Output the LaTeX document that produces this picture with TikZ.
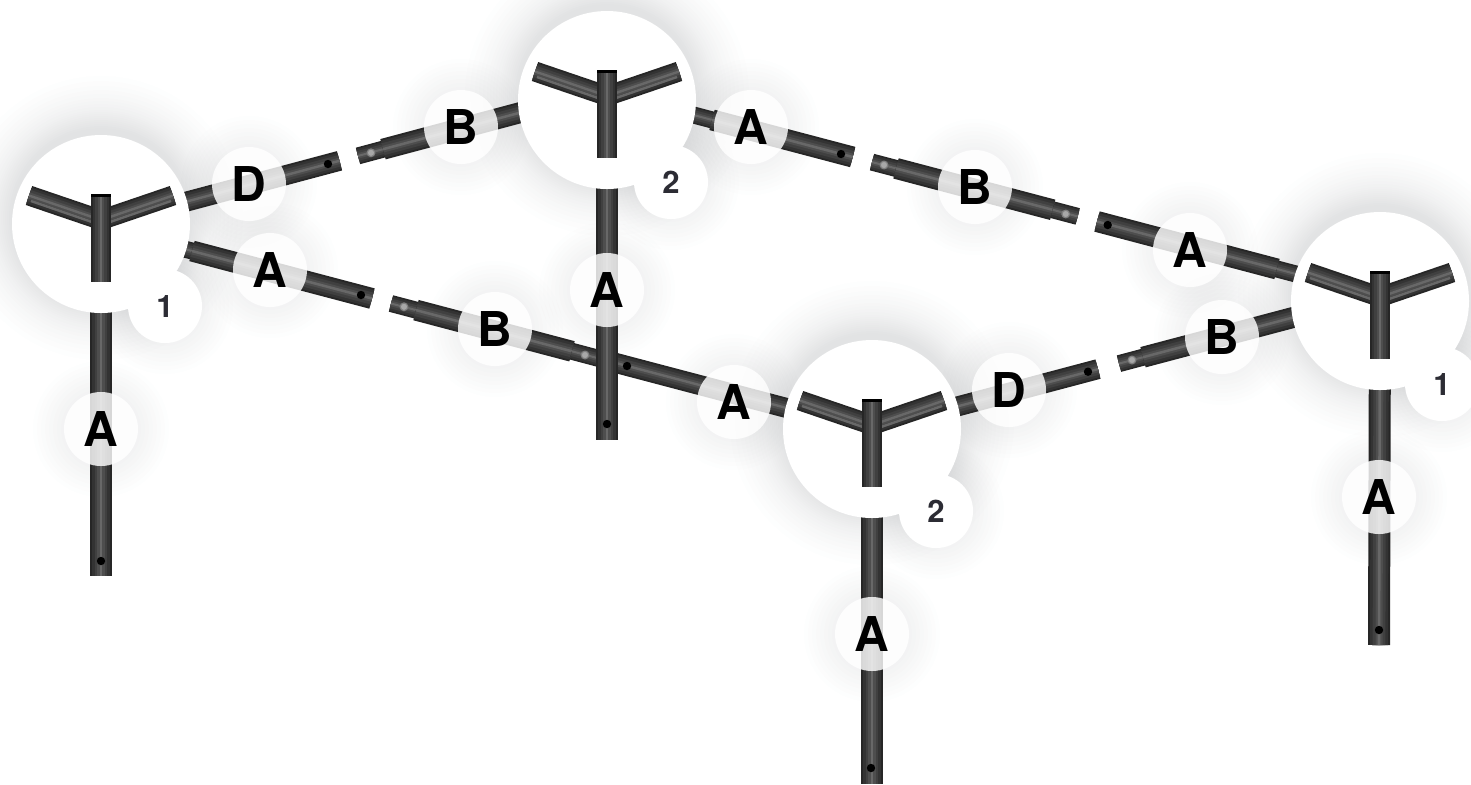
\documentclass[tikz,border=0pt]{standalone}
\usepackage{fontspec}
\setmainfont{TeX Gyre Heros}
\definecolor{pipeedge}{HTML}{262626}
\definecolor{pipemid}{HTML}{333333}
\definecolor{pipesoft}{HTML}{404040}
\definecolor{pipelite}{HTML}{4E4E4E}
\definecolor{pipeglow}{HTML}{686868}
\definecolor{holegray}{HTML}{A8A8A8}
\definecolor{numgray}{HTML}{2C2C34}
\definecolor{shadegray}{HTML}{3C4248}
\tikzset{
  tube/.style={draw=pipeedge, line width=#1,
    postaction={draw=pipemid, line width=.82*#1},
    postaction={draw=pipesoft, line width=.58*#1},
    postaction={draw=pipelite, line width=.32*#1},
    postaction={draw=pipeglow, line width=.12*#1}},
  hubdisc/.style={circle, fill=white, minimum size=89pt, inner sep=0pt},
  tagdisc/.style={circle, fill=white, fill opacity=.82, text opacity=1, minimum size=37pt, inner sep=0pt,
    font=\fontsize{24}{24}\selectfont\bfseries},
  numdisc/.style={circle, fill=white, text=numgray, minimum size=37pt, inner sep=0pt,
    font=\fontsize{15.5}{15.5}\selectfont\bfseries},
  blackhole/.style={circle, fill=black, minimum size=4.2pt, inner sep=0pt},
  greyhole/.style={circle, fill=holegray, draw=gray, line width=.6pt, minimum size=3.8pt, inner sep=0pt},
  ypipe/.pic={
    \draw[tube=10pt] (-72,-28.5) -- (0,-4);
    \draw[pipeglow, line width=1.2pt] (-70,-23) -- (-9,-2);
    \draw[tube=10pt] (72,-28.5) -- (0,-4);
    \draw[pipeglow, line width=1.2pt] (70,-23) -- (9,-2);
    \draw[tube=10pt] (0,-30) -- (0,58);
    \draw[black, line width=10pt] (0,-30) -- (0,-27);
  }
}
\begin{document}
\begin{tikzpicture}[x=0.5pt, y=-0.5pt]
\path[use as bounding box, clip] (0,0) rectangle (1471,784);
% Hub centres
\coordinate (c1) at (101,224);
\coordinate (c2) at (607,100);
\coordinate (c3) at (872,429);
\coordinate (c4) at (1380,301);

% Soft shadows
\foreach \c in {c1,c2,c3,c4}
  \foreach \r in {45,46,47,48,49,50,51,52,53,54,55.5,57,58.5,60,62,64,66,68.5,71}
    \fill[shadegray, opacity=.0095] ([yshift=3pt]\c) circle [radius=\r pt];
\foreach \c in {(101,429),(607,290),(872,634),(1379,497),(270,270),(495,329),(734,402),(249,184),(461,127),(751,127),(975,187),(1190,250),(1009,390),(1222,337),(165,306),(671,182),(936,511),(1442,384)}
  \foreach \r in {20,22,24,26,28,30,32,34}
    \fill[shadegray, opacity=.006] \c circle [radius=\r pt];

% Front left beam
\coordinate (fa1) at (170,245.2);
\coordinate (fa2) at (192,251);
\coordinate (fa3) at (372,298.5);
\coordinate (fb1) at (391,303.5);
\coordinate (fb2) at (416,310.1);
\coordinate (fb3) at (572,351.3);
\coordinate (fb4) at (610,361.4);
\coordinate (fa4) at (800,411.5);
\draw[tube=8.5pt] (fa1) -- (fa2);
\draw[tube=10.5pt] (fa2) -- (fa3);
\draw[tube=8.5pt] (fb1) -- (fb2);
\draw[tube=10.5pt] (fb2) -- (fb3);
\draw[tube=8.5pt] (fb3) -- (fb4);
\draw[tube=10pt] (fb4) -- (fa4);
\node[blackhole] (h1) at (361,295) {};
\node[greyhole] (h2) at (404,306.8) {};
\node[greyhole] (h3) at (585,355) {};
\node[blackhole] (h4) at (627,366) {};

% Back left beam
\coordinate (bd1) at (150,211.3);
\coordinate (bd2) at (339.5,160.8);
\coordinate (bb1) at (358,155.9);
\coordinate (bb2) at (383,149.2);
\coordinate (bb3) at (560,102);
\draw[tube=10pt] (bd1) -- (bd2);
\draw[tube=8.5pt] (bb1) -- (bb2);
\draw[tube=10.5pt] (bb2) -- (bb3);
\node[blackhole] (h5) at (328,164) {};
\node[greyhole] (h6) at (371,152.8) {};

% Back right beam
\coordinate (ra1) at (680,111.4);
\coordinate (ra2) at (712,119.9);
\coordinate (ra3) at (852.7,157);
\coordinate (rb1) at (872,162.1);
\coordinate (rb2) at (896,168.4);
\coordinate (rb3) at (1052.7,209.8);
\coordinate (rb4) at (1077.7,216.4);
\coordinate (ra4) at (1097,221.5);
\coordinate (ra5) at (1277,269);
\coordinate (ra6) at (1310,277.7);
\draw[tube=8.5pt] (ra1) -- (ra2);
\draw[tube=10.5pt] (ra2) -- (ra3);
\draw[tube=8.5pt] (rb1) -- (rb2);
\draw[tube=10.5pt] (rb2) -- (rb3);
\draw[tube=8.5pt] (rb3) -- (rb4);
\draw[tube=10.5pt] (ra4) -- (ra5);
\draw[tube=8.5pt] (ra5) -- (ra6);
\node[blackhole] (h7) at (841,154) {};
\node[greyhole] (h8) at (884,165) {};
\node[greyhole] (h9) at (1065.7,214) {};
\node[blackhole] (h10) at (1107.7,225) {};

% Front right beam
\coordinate (sd1) at (930,413.7);
\coordinate (sd2) at (1098,369.1);
\coordinate (sb1) at (1119,363.6);
\coordinate (sb2) at (1143,357.2);
\coordinate (sb3) at (1310,313);
\draw[tube=10pt] (sd1) -- (sd2);
\draw[tube=8.5pt] (sb1) -- (sb2);
\draw[tube=10.5pt] (sb2) -- (sb3);
\node[blackhole] (h11) at (1088,371.7) {};
\node[greyhole] (h12) at (1132,360) {};

% Legs
\coordinate (l1) at (101,576);
\coordinate (l2) at (607,440);
\coordinate (l3) at (872,784);
\coordinate (l4) at (1379,645);
\draw[tube=11pt] (c1) -- (l1);
\draw[tube=11pt] (c2) -- (l2);
\draw[tube=11pt] (c3) -- (l3);
\draw[tube=11pt] (c4) -- (l4);
\node[blackhole] (h13) at (101,561) {};
\node[blackhole] (h14) at (607,424) {};
\node[blackhole] (h15) at (871,768) {};
\node[blackhole] (h16) at (1379,630) {};

% Letter tags
\node[tagdisc] (t1) at (101,429) {A};
\node[tagdisc] (t2) at (607,290) {A};
\node[tagdisc] (t3) at (872,634) {A};
\node[tagdisc] (t4) at (1379,497) {A};
\node[tagdisc] (t5) at (270,270) {A};
\node[tagdisc] (t6) at (495,329) {B};
\node[tagdisc] (t7) at (734,402) {A};
\node[tagdisc] (t8) at (249,184) {D};
\node[tagdisc] (t9) at (461,127) {B};
\node[tagdisc] (t10) at (751,127) {A};
\node[tagdisc] (t11) at (975,187) {B};
\node[tagdisc] (t12) at (1190,250) {A};
\node[tagdisc] (t13) at (1009,390) {D};
\node[tagdisc] (t14) at (1222,337) {B};

% Hubs
\node[hubdisc] (hub1) at (c1) {};
\node[hubdisc] (hub2) at (c2) {};
\node[hubdisc] (hub3) at (c3) {};
\node[hubdisc] (hub4) at (c4) {};
\pic at (hub1) {ypipe};
\pic at (hub2) {ypipe};
\pic at (hub3) {ypipe};
\pic at (hub4) {ypipe};

% Number tags
\node[numdisc] (n1) at (165,306) {1};
\node[numdisc] (n2) at (671,182) {2};
\node[numdisc] (n3) at (936,511) {2};
\node[numdisc] (n4) at (1442,384) {1};
\end{tikzpicture}
\end{document}
